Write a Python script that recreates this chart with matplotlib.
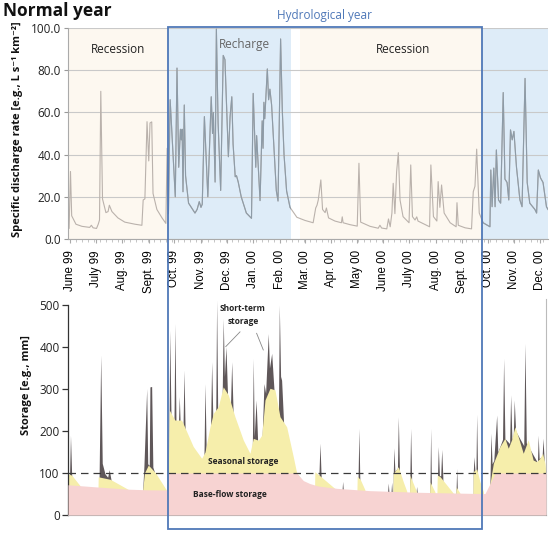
import numpy as np
import pandas as pd
import matplotlib
matplotlib.use('Agg')
import matplotlib.pyplot as plt
import matplotlib.transforms as mtransforms
from matplotlib.patches import Rectangle
from matplotlib.ticker import MultipleLocator, FormatStrFormatter

plt.rcParams['font.family'] = ['Open Sans', 'DejaVu Sans']

# x is counted in days from 1 June 1999
# --- top panel: specific discharge ---
q_day = [-2.3, -1, 0.6, 2, 7, 14, 23, 25, 27, 31, 33, 34.5, 36, 38, 42, 44.5, 46, 49, 56, 64, 76,
         84, 85.5, 87.5, 90, 92, 93.5, 95.5, 97, 101.5, 107.5, 112, 113.5, 115, 117, 123,
         125, 127, 129, 130, 131, 132, 133.5, 135, 138.5, 146, 148.5, 151, 153, 154.5, 157, 161,
         165, 166.5, 167.5, 169.5, 171, 173, 176, 179, 181, 185, 187, 189, 190.5, 193, 194.5,
         196.5, 200, 206, 212, 214, 217, 218, 222, 224.5, 225.5, 226.5, 227.5, 230.5, 232, 233.5,
         235.5, 241, 243, 246, 248, 250, 253, 257, 265, 274.5, 284, 287, 288.5, 290, 293, 295,
         298, 299.5, 302, 309.5, 317, 318, 319, 327, 335.5, 337.5, 339.5, 350.5, 360, 362, 364,
         370, 372, 374, 376, 377.5, 379.5, 381.5, 383.5, 385.5, 389, 396, 398, 400, 403, 405,
         406.5, 420, 421.5, 424.5, 428.5, 430, 432, 434, 437, 444, 451, 452, 453.5, 461.5, 469,
         471, 473, 475, 478, 482.5, 490.5, 491.5, 493, 495, 496.5, 498, 500.5, 503, 506, 508,
         510.5, 512.5, 514.5, 516.5, 518.5, 521.5, 525.5, 528, 531.5, 534, 537, 543, 545, 547,
         549.5, 552.5, 556.5, 558.3]
q_val = [7, 5, 32, 11, 7, 6, 5.5, 6.5, 5.3, 5, 7, 9, 70, 19, 12.5, 13, 16, 13, 10, 8, 7,
         6.5, 18.5, 19, 55.6, 37, 55, 55.5, 21.6, 14, 10, 7.4, 43, 12, 66, 20,
         81, 34, 52, 47, 52, 22.4, 63.5, 30, 17, 12.3, 14, 17.7, 15, 16.5, 58, 20,
         67.4, 50, 60, 27, 99.5, 55, 23, 87, 85, 39, 58, 67.4, 45, 29.5, 30,
         27, 20, 12.3, 9.8, 69, 34, 49, 18.2, 56, 43, 64.8, 57, 80.6, 66, 71,
         63.5, 22.9, 18, 94.8, 60.8, 40, 22.8, 15, 10.3, 8.8, 7.7, 14.7, 16, 18.5, 28, 14,
         12.5, 14.7, 10, 8.5, 7.7, 10.5, 7.7, 6.8, 6.1, 35.9, 8, 6, 5.1, 6.5, 5.2,
         4.8, 9.5, 5.8, 12.3, 26.4, 12, 31.9, 40.9, 18.5, 10.6, 7.7, 35.1, 10.6, 9, 10.5,
         8.5, 5.8, 35.1, 10.6, 8.5, 27.2, 15, 25.6, 12.3, 7.7, 5.8, 17.2, 6.5, 5.3, 4.8,
         22.4, 25, 42.6, 12.3, 7.7, 5.8, 32.7, 15.3, 33.6, 15.3, 42.2, 18.5, 17, 69.4, 28.4,
         26.8, 18.5, 51.7, 47, 51, 34, 18.5, 15.3, 76.1, 26.8, 17, 14, 12.3, 32.7,
         29, 26.8, 15.3, 14]

month_labels = ['June 99', 'July 99', 'Aug. 99', 'Sept. 99', 'Oct. 99', 'Nov. 99', 'Dec. 99',
                'Jan. 00', 'Feb. 00', 'Mar. 00', 'Apr. 00', 'May 00', 'June 00', 'July 00',
                'Aug. 00', 'Sept. 00', 'Oct. 00', 'Nov. 00', 'Dec. 00']
recharge_spans = [(114.5, 258.5), (481, 558.3)]
recession_spans = [(-2.3, 114.5), (268.6, 481)]
hydro_year = (114.5, 481)

# --- bottom panel: storage components ---
base_day = [-2.3, 30, 68, 90, 114.3, 114.8, 264.8, 272.5, 280, 290, 311.5, 350, 409, 467,
            484.7, 496.4, 497, 556]
base_val = [72, 67, 61.5, 60, 59.5, 100, 100, 82, 75, 69, 63.5, 58, 54, 51.6,
            51, 98, 100, 100]

seas_day = [-2.3, 2, 11.7, 12.2, 32.5, 33, 47, 68, 68.5, 84.5, 85, 87, 91.5, 100, 112.5, 113,
            114.3, 116, 122.5, 130.4, 144, 153.8, 157.7, 163.5, 167.4, 173.2, 179, 184.9, 192.7,
            202.4, 210.2, 214.1, 220, 224, 227.8, 233.6, 239.4, 245.3, 253.1, 260.8, 264.8, 268,
            272, 273, 285.5, 286, 291, 309.5, 310, 335, 335.5, 339, 344.5, 345, 377, 377.6,
            383.5, 389.3, 393.3, 393.8, 396.5, 397, 404.9, 405.3, 420, 420.5, 426.3, 426.7,
            428.5, 429, 432, 447.7, 448, 450.5, 451, 455.5, 456, 470.5, 471, 475, 478.9, 482.8,
            483.5, 489, 490.6, 494.5, 498.4, 502.2, 508, 511.9, 515.8, 519.7, 523.6, 529.4,
            535.2, 541, 545, 548.9, 552, 554.8, 556]
seas_val = [98, 95, 70, 40, 40, 91, 85, 61, 40, 40, 61, 100, 119, 100, 60, 40,
            40, 250, 226, 226, 163, 135, 150, 210, 242, 258, 305, 286, 234,
            178.6, 147, 182.5, 178, 190, 274, 301.6, 298, 234, 210, 139, 100, 92,
            80, 40, 40, 103, 95, 63, 40, 40, 92, 85, 60, 40, 40, 99,
            115, 79, 57, 40, 40, 95, 55, 40, 40, 79, 55, 40,
            40, 95, 92, 52, 40, 40, 67, 52, 40, 40, 103, 110, 79, 56,
            40, 40, 75, 123, 143, 163, 182.5, 159, 179, 210, 186, 147,
            179, 131, 127, 135, 147, 123, 100]

# short-term storage peaks, one list of (day, storage) per event
short_events = [
    [(-0.5, 94), (0.6, 190), (2, 94)],
    [(34, 88), (35.9, 381), (37.7, 123), (40.9, 98), (44, 90), (45.9, 108), (47.9, 84)],
    [(85, 60), (86.4, 118), (89.6, 301), (90.8, 122), (92.6, 118), (93.4, 305), (95.4, 306),
     (96.8, 114), (99, 100)],
    [(113.3, 55), (114, 220), (114.7, 90)],
    [(115.8, 230), (116.5, 440), (118, 235)],
    [(121.5, 224), (122.6, 456), (123.8, 224)],
    [(126.8, 224), (127.7, 282), (128.6, 224)],
    [(132, 205), (133.2, 345), (134.5, 200)],
    [(156.5, 140), (157.7, 313), (159, 165)],
    [(164.3, 220), (165.5, 365), (166.8, 235)],
    [(170.3, 250), (171.3, 512), (172.5, 255)],
    [(177.8, 285), (179, 468), (180.4, 330), (182.2, 401), (184, 288)],
    [(187.5, 262), (188.9, 365), (190.5, 245)],
    [(213, 160), (214.1, 373), (215.2, 186), (217.4, 274), (219.2, 176)],
    [(224.5, 190), (226.6, 313), (228.5, 290), (229.7, 345), (231.6, 432), (233, 350),
     (235.6, 385), (238.3, 298)],
    [(243.5, 240), (244.5, 500), (246, 330), (247.2, 321), (249.5, 220)],
    [(290.8, 96), (292, 171), (293.3, 94)],
    [(317.8, 60), (318.5, 80), (319.2, 60)],
    [(336.5, 90), (337.5, 206), (338.5, 88)],
    [(371, 55), (371.8, 76), (372.5, 55)],
    [(375, 55), (375.7, 78), (376.4, 55)],
    [(377.6, 99), (378.4, 160), (379.5, 104), (382.5, 112), (383.5, 234), (384.8, 112)],
    [(397, 94), (397.9, 206), (399, 92)],
    [(404.3, 55), (404.9, 68), (405.5, 55)],
    [(420.5, 78), (421.3, 206), (422.1, 76)],
    [(429.3, 94), (430.2, 163), (431.5, 94), (433, 93), (434.2, 156), (435.5, 90)],
    [(451, 62), (451.7, 111), (452.4, 62)],
    [(471, 100), (471.9, 139), (473, 105), (474.2, 107), (475, 240), (476, 108)],
    [(490.5, 74), (491.7, 195), (493, 122), (495, 130), (498.4, 238), (499.7, 150), (505.2, 180),
     (506.5, 373), (508, 182), (513.5, 170), (514.7, 286), (516.2, 180), (517.8, 190),
     (518.9, 274), (520.5, 200), (530, 165), (531.4, 409), (533, 172), (546, 125), (546.9, 190),
     (548, 134), (551.5, 140), (552.5, 183), (554, 124)],
]

W, H = 550, 533
fig = plt.figure(figsize=(W / 100, H / 100), dpi=100)
ax1 = fig.add_axes([68 / W, 1 - 239 / H, 480 / W, 211 / H])
ax2 = fig.add_axes([68 / W, 1 - 515 / H, 478 / W, 216.3 / H])

blue_line = '#4f78b8'

# ---- top panel
ax1.set_xlim(-2.3, 558.3)
ax1.set_ylim(0, 100)
for a, b in recession_spans:
    ax1.axvspan(a, b, color='#fdf8f0', lw=0, zorder=0)
spans = []
for a, b in recharge_spans:
    spans.append(ax1.axvspan(a, b, color='#deecf8', lw=0, zorder=0))
ax1.set_axisbelow(True)
ax1.yaxis.grid(True, color='#c9c9c9', lw=0.8)
ax1.plot(q_day, q_val, color='#bab2ac', lw=0.8, zorder=2)
for sp in spans:
    ln, = ax1.plot(q_day, q_val, color='#8d9ba7', lw=0.8, zorder=3)
    ln.set_clip_path(sp)

ax1.text(56, 90, 'Recession', ha='center', va='center', fontsize=8.5, color='#222')
ax1.text(204, 92, 'Recharge', ha='center', va='center', fontsize=8.5, color='#666')
ax1.text(389, 90, 'Recession', ha='center', va='center', fontsize=8.5, color='#222')

month_starts = pd.date_range('1999-06-01', '2000-12-01', freq='MS')
month_days = (month_starts - month_starts[0]).days
ax1.set_xticks(month_days)
ax1.set_xticklabels(month_labels, rotation=90, fontsize=8.3, family=['Liberation Sans', 'DejaVu Sans'])
ax1.xaxis.set_minor_locator(MultipleLocator(7))
ax1.tick_params(axis='x', which='major', length=3, color='#aaa', pad=5)
ax1.tick_params(axis='x', which='minor', length=2, color='#bbb')
ax1.set_yticks(np.arange(0, 101, 20))
ax1.yaxis.set_major_formatter(FormatStrFormatter('%.1f'))
ax1.tick_params(axis='y', length=3, color='#999', labelsize=8.5, labelcolor='#222', pad=2)
for s in ['top', 'right']:
    ax1.spines[s].set_visible(False)
for s in ['left', 'bottom']:
    ax1.spines[s].set_color('#aaa')
    ax1.spines[s].set_linewidth(0.8)

# ---- bottom panel
ax2.set_xlim(-2.3, 556)
ax2.set_ylim(0, 515)
for ev in short_events:
    d = [p[0] for p in ev]
    v = [p[1] for p in ev]
    ax2.fill_between(d, 0, v, color='#5f5759', lw=0, zorder=1)
ax2.fill_between(seas_day, 0, seas_val, color='#f6eeab', lw=0, zorder=2)
ax2.fill_between(base_day, 0, base_val, color='#f7d3d2', lw=0, zorder=3)
ax2.axhline(100, color='#3a3a3a', lw=0.9, ls=(0, (6, 4)), zorder=4)

ax2.text(202, 476, 'Short-term\nstorage', ha='center', va='center', fontsize=6,
         fontweight='bold', color='#222', linespacing=1.6)
ax2.plot([198.6, 182], [436, 401], color='#888', lw=0.6, zorder=5)
ax2.plot([218, 225.8], [432.6, 393], color='#888', lw=0.6, zorder=5)
ax2.text(202, 128, 'Seasonal storage', ha='center', va='center', fontsize=6,
         fontweight='bold', color='#222', zorder=5)
ax2.text(187, 49, 'Base-flow storage', ha='center', va='center', fontsize=6,
         fontweight='bold', color='#222', zorder=5)

ax2.set_xticks([])
ax2.set_yticks(np.arange(0, 501, 100))
ax2.tick_params(axis='y', length=4, width=0.9, color='#333', labelsize=8.5, labelcolor='#222', pad=2)
ax2.spines['top'].set_visible(False)
ax2.spines['left'].set_bounds(0, 500)
ax2.spines['left'].set_color('#333')
ax2.spines['left'].set_linewidth(0.9)
ax2.spines['bottom'].set_color('#999')
ax2.spines['bottom'].set_linewidth(0.8)
ax2.spines['right'].set_color('#bbb')
ax2.spines['right'].set_linewidth(0.8)

# hydrological year box across both panels
blend = mtransforms.blended_transform_factory(ax1.transData, fig.transFigure)
y_lo, y_hi = 1 - 529 / H, 1 - 27 / H
fig.add_artist(Rectangle((hydro_year[0], y_lo), hydro_year[1] - hydro_year[0], y_hi - y_lo,
                         transform=blend, fill=False, ec=blue_line, lw=1.3, zorder=10))
fig.text(0.5 * (hydro_year[0] + hydro_year[1]), 1 - 16 / H, 'Hydrological year', transform=blend,
         ha='center', va='center', fontsize=8.5, color=blue_line)

fig.text(3 / W, 1 - 2 / H, 'Normal year', ha='left', va='top', fontsize=12.5, fontweight='bold',
         color='#111')
fig.text(18 / W, 1 - 129 / H, 'Specific discharge rate [e.g., L s\u207b\u00b9 km\u207b\u00b2]',
         rotation=90, ha='center', va='center', fontsize=8, fontweight='bold', color='#111')
fig.text(27 / W, 1 - 385 / H, 'Storage [e.g., mm]', rotation=90, ha='center', va='center',
         fontsize=8, fontweight='bold', color='#111')

fig.savefig('out.png', dpi=100)
